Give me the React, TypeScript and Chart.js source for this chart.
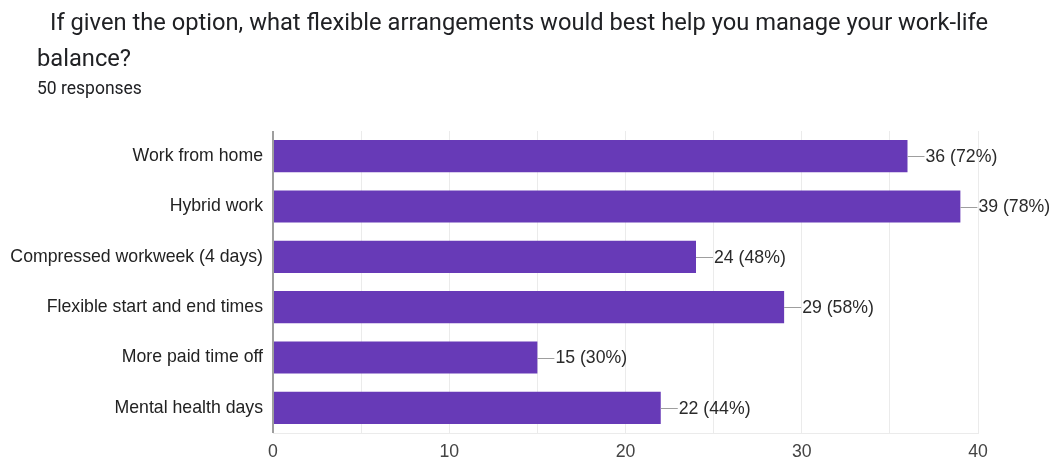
import React, { useEffect, useRef } from "react";
import { Chart, registerables } from "chart.js";

Chart.register(...registerables);

const titleLine1 = "If given the option, what flexible arrangements would best help you manage your work-life";
const titleLine2 = "balance?";
const subtitle = "50 responses";

const categories = [
  "Work from home",
  "Hybrid work",
  "Compressed workweek (4 days)",
  "Flexible start and end times",
  "More paid time off",
  "Mental health days",
];
const counts = [36, 39, 24, 29, 15, 22];
const percents = [72, 78, 48, 58, 30, 44];
const xTickValues = [0, 10, 20, 30, 40];

const FONT = "Arial, 'Liberation Sans', sans-serif";

const labelPlugin = {
  id: "barLabels",
  afterDatasetsDraw(chart: any) {
    const ctx = chart.ctx;
    const meta = chart.getDatasetMeta(0);
    ctx.save();
    ctx.font = `17.7px ${FONT}`;
    ctx.textBaseline = "middle";
    ctx.textAlign = "left";
    meta.data.forEach((bar: any, i: number) => {
      const x = bar.x;
      const y = bar.y;
      ctx.strokeStyle = "#9e9e9e";
      ctx.lineWidth = 1;
      ctx.beginPath();
      ctx.moveTo(x, Math.round(y) + 0.5);
      ctx.lineTo(x + 17, Math.round(y) + 0.5);
      ctx.stroke();
      ctx.fillStyle = "#2a2a2a";
      ctx.fillText(`${counts[i]} (${percents[i]}%)`, x + 18, y + 1);
    });
    ctx.restore();
  },
};

export default function App() {
  const ref = useRef<HTMLCanvasElement | null>(null);
  useEffect(() => {
    if (!ref.current) return;
    const chart = new Chart(ref.current, {
      type: "bar",
      data: {
        labels: categories,
        datasets: [
          {
            data: counts,
            backgroundColor: "#673ab7",
            borderWidth: 0,
            categoryPercentage: 1,
            barPercentage: 0.64,
          },
        ],
      },
      options: {
        indexAxis: "y",
        animation: false,
        responsive: false,
        maintainAspectRatio: false,
        layout: { padding: { top: 131, right: 74, left: 0, bottom: 0 } },
        plugins: {
          legend: { display: false },
          tooltip: { enabled: false },
        },
        scales: {
          x: {
            min: 0,
            max: 40,
            afterFit: (s: any) => {
              s.height = 28;
            },
            border: { display: true, color: "#ebebeb", width: 1 },
            grid: {
              drawTicks: false,
              color: (c: any) => (c.tick && c.tick.value === 0 ? "#9e9e9e" : "#ebebeb"),
              lineWidth: (c: any) => (c.tick && c.tick.value === 0 ? 2 : 1),
            },
            ticks: {
              stepSize: 5,
              autoSkip: false,
              padding: 8,
              color: "#444444",
              font: { family: FONT, size: 17.7 },
              callback: (v: any) => (xTickValues.includes(Number(v)) ? String(v) : ""),
            },
          },
          y: {
            afterFit: (s: any) => {
              s.width = 273;
            },
            border: { display: false },
            grid: { display: false, drawTicks: false },
            ticks: {
              padding: 10,
              color: "#222222",
              font: { family: FONT, size: 17.7 },
            },
          },
        },
      },
      plugins: [labelPlugin],
    });
    return () => chart.destroy();
  }, []);

  return (
    <div style={{ position: "absolute", left: 0, top: 0, width: 1052, height: 461, background: "#fff" }}>
      <canvas ref={ref} width={1052} height={461} style={{ position: "absolute", left: 0, top: 0 }} />
      <div
        style={{
          position: "absolute",
          left: 37,
          top: 4,
          fontFamily: "Roboto, sans-serif",
          fontSize: 23.7,
          lineHeight: "36px",
          color: "#202124",
          textIndent: 13,
          whiteSpace: "nowrap",
        }}
      >
        {titleLine1}
        <br />
        {titleLine2}
      </div>
      <div
        style={{
          position: "absolute",
          left: 37,
          top: 78,
          fontFamily: "Roboto, sans-serif",
          fontSize: 17.5,
          color: "#202124",
          whiteSpace: "nowrap",
        }}
      >
        {subtitle}
      </div>
    </div>
  );
}
